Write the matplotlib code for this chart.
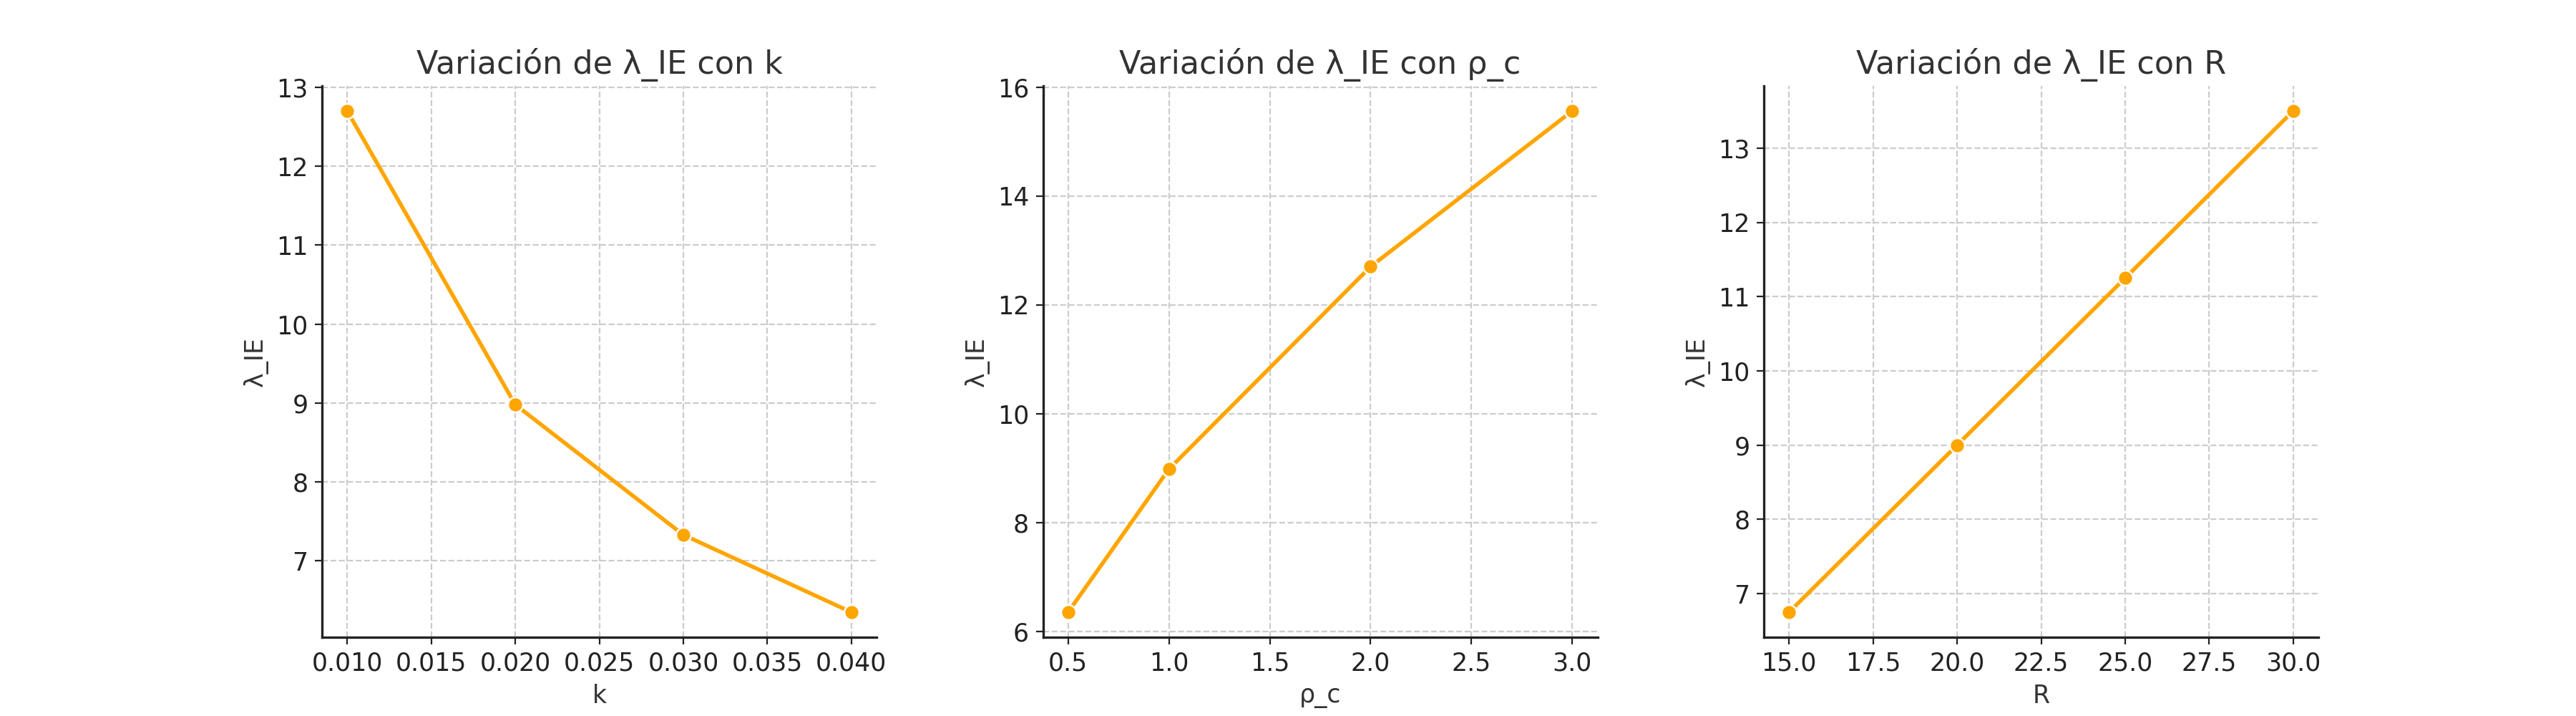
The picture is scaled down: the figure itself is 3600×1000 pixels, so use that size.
import matplotlib
matplotlib.use("Agg")
import matplotlib.pyplot as plt

k_vals = [0.01, 0.02, 0.03, 0.04]
lam_k = [12.70, 8.98, 7.33, 6.35]

rho_vals = [0.5, 1.0, 2.0, 3.0]
lam_rho = [6.35, 8.98, 12.70, 15.56]

R_vals = [15, 20, 25, 30]
lam_R = [6.75, 9.00, 11.25, 13.50]

panels = [
    (k_vals, lam_k, "k", "Variación de λ_IE con k"),
    (rho_vals, lam_rho, "ρ_c", "Variación de λ_IE con ρ_c"),
    (R_vals, lam_R, "R", "Variación de λ_IE con R"),
]

plt.rcParams["font.family"] = "DejaVu Sans"
plt.rcParams["text.color"] = "#333333"
plt.rcParams["axes.labelcolor"] = "#333333"

fig, axes = plt.subplots(1, 3, figsize=(18, 5), dpi=200)
fig.subplots_adjust(left=0.125, right=0.9, bottom=0.11, top=0.88, wspace=0.3)

for ax, (x, y, xlabel, title) in zip(axes, panels):
    ax.plot(x, y, "o-", color="orange", lw=2.0, ms=7.5,
            markeredgecolor="white", markeredgewidth=0.9)
    ax.set_title(title, fontsize=16, color="#333333")
    ax.set_xlabel(xlabel, fontsize=12.5)
    ax.set_ylabel("λ_IE", fontsize=12.5)
    ax.grid(True, linestyle="--", color="#cccccc", lw=0.8)
    ax.spines["top"].set_visible(False)
    ax.spines["right"].set_visible(False)
    for s in ("left", "bottom"):
        ax.spines[s].set_color("#222222")
        ax.spines[s].set_linewidth(1.2)
    ax.tick_params(labelsize=12.5, colors="#222222")

axes[0].set_xticks([0.010, 0.015, 0.020, 0.025, 0.030, 0.035, 0.040])
axes[0].xaxis.set_major_formatter(matplotlib.ticker.FormatStrFormatter("%.3f"))

fig.savefig("out.png")
